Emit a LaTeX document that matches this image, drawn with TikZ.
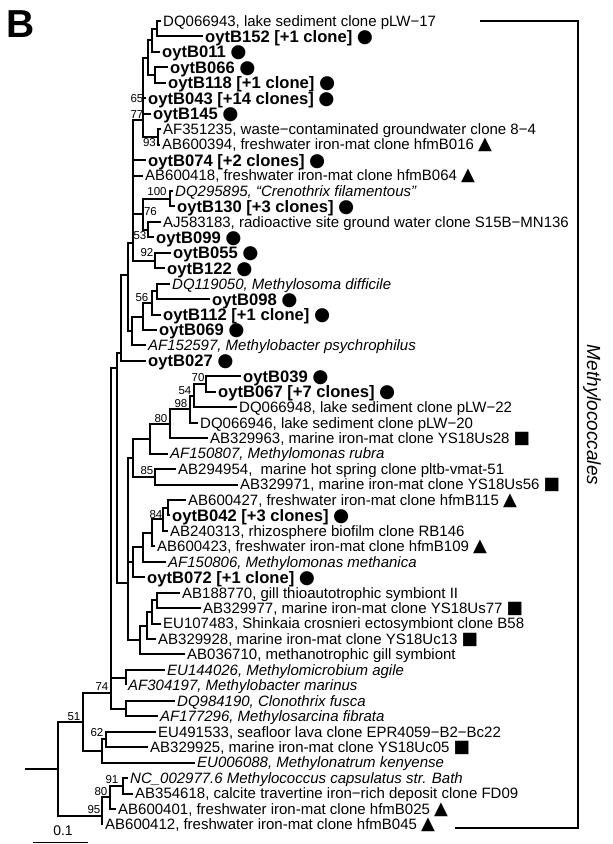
\documentclass[tikz,border=0pt]{standalone}
\usepackage{fontspec}
\setmainfont{Liberation Sans}
\newfontfamily\symf{DejaVu Sans}
\newcommand{\mdot}{{\symf\fontsize{18.5}{18.5}\selectfont ●}}
\newcommand{\mtri}{{\symf\fontsize{18}{18}\selectfont ▲}}
\newcommand{\msq}{{\symf\fontsize{17.5}{17.5}\selectfont ■}}
\pgfmathdeclarefunction{ly}{1}{\pgfmathparse{21+(#1-1)*15.45}}
\begin{document}
\begin{tikzpicture}[x=1pt,y=-1pt,
  br/.style={line width=2pt},
  lf/.style={anchor=west,inner xsep=2pt,inner ysep=0pt,font=\fontsize{15}{15}\selectfont,text height=10.7pt,text depth=0pt},
  bl/.style={lf,font=\fontsize{16.6}{16.6}\selectfont\bfseries,text height=11.9pt},
  it/.style={lf,font=\fontsize{15}{15}\selectfont\itshape},
  bs/.style={inner sep=0pt,font=\fontsize{11.5}{11.5}\selectfont}]
\useasboundingbox (0,0) rectangle (613,844);
\fill[white] (0,0) rectangle (613,844);
% leaves
\node[lf] (L1) at (161,{ly(1)}) {DQ066943, lake sediment clone pLW−17};
\node[bl] (L2) at (203,{ly(2)}) {oytB152 [+1 clone] \mdot};
\node[bl] (L3) at (160,{ly(3)}) {oytB011 \mdot};
\node[bl] (L4) at (168,{ly(4)}) {oytB066 \mdot};
\node[bl] (L5) at (166,{ly(5)}) {oytB118 [+1 clone] \mdot};
\node[bl] (L6) at (146,{ly(6)}) {oytB043 [+14 clones] \mdot};
\node[bl] (L7) at (151,{ly(7)}) {oytB145 \mdot};
\node[lf] (L8) at (161,{ly(8)}) {AF351235, waste−contaminated groundwater clone 8−4};
\node[lf] (L9) at (160,{ly(9)}) {AB600394, freshwater iron-mat clone hfmB016 \mtri};
\node[bl] (L10) at (146,{ly(10)}) {oytB074 [+2 clones] \mdot};
\node[lf] (L11) at (143,{ly(11)}) {AB600418, freshwater iron-mat clone hfmB064 \mtri};
\node[it] (L12) at (173,{ly(12)}) {DQ295895, “Crenothrix filamentous”};
\node[bl] (L13) at (175,{ly(13)}) {oytB130 [+3 clones] \mdot};
\node[lf] (L14) at (161,{ly(14)}) {AJ583183, radioactive site ground water clone S15B−MN136};
\node[bl] (L15) at (154,{ly(15)}) {oytB099 \mdot};
\node[bl] (L16) at (171,{ly(16)}) {oytB055 \mdot};
\node[bl] (L17) at (165,{ly(17)}) {oytB122 \mdot};
\node[it] (L18) at (170,{ly(18)}) {DQ119050, Methylosoma difficile};
\node[bl] (L19) at (210,{ly(19)}) {oytB098 \mdot};
\node[bl] (L20) at (161,{ly(20)}) {oytB112 [+1 clone] \mdot};
\node[bl] (L21) at (157,{ly(21)}) {oytB069 \mdot};
\node[it] (L22) at (146,{ly(22)}) {AF152597, Methylobacter psychrophilus};
\node[bl] (L23) at (146,{ly(23)}) {oytB027 \mdot};
\node[bl] (L24) at (241,{ly(24)}) {oytB039 \mdot};
\node[bl] (L25) at (216,{ly(25)}) {oytB067 [+7 clones] \mdot};
\node[lf] (L26) at (237,{ly(26)}) {DQ066948, lake sediment clone pLW−22};
\node[lf] (L27) at (198,{ly(27)}) {DQ066946, lake sediment clone pLW−20};
\node[lf] (L28) at (208,{ly(28)}) {AB329963, marine iron-mat clone YS18Us28 \msq};
\node[it] (L29) at (168,{ly(29)}) {AF150807, Methylomonas rubra};
\node[lf] (L30) at (176,{ly(30)}) {AB294954,\ \ marine hot spring clone pltb-vmat-51};
\node[lf] (L31) at (238,{ly(31)}) {AB329971, marine iron-mat clone YS18Us56 \msq};
\node[lf] (L32) at (186,{ly(32)}) {AB600427, freshwater iron-mat clone hfmB115 \mtri};
\node[bl] (L33) at (170,{ly(33)}) {oytB042 [+3 clones] \mdot};
\node[lf] (L34) at (168,{ly(34)}) {AB240313, rhizosphere biofilm clone RB146};
\node[lf] (L35) at (155,{ly(35)}) {AB600423, freshwater iron-mat clone hfmB109 \mtri};
\node[it] (L36) at (166,{ly(36)}) {AF150806, Methylomonas methanica};
\node[bl] (L37) at (145,{ly(37)}) {oytB072 [+1 clone] \mdot};
\node[lf] (L38) at (180,{ly(38)}) {AB188770, gill thioautotrophic symbiont II};
\node[lf] (L39) at (201,{ly(39)}) {AB329977, marine iron-mat clone YS18Us77 \msq};
\node[lf] (L40) at (161,{ly(40)}) {EU107483, Shinkaia crosnieri ectosymbiont clone B58};
\node[lf] (L41) at (156,{ly(41)}) {AB329928, marine iron-mat clone YS18Uc13 \msq};
\node[lf] (L42) at (185,{ly(42)}) {AB036710, methanotrophic gill symbiont};
\node[it] (L43) at (165,{ly(43)}) {EU144026, Methylomicrobium agile};
\node[it] (L44) at (126,{ly(44)}) {AF304197, Methylobacter marinus};
\node[it] (L45) at (175,{ly(45)}) {DQ984190, Clonothrix fusca};
\node[it] (L46) at (158,{ly(46)}) {AF177296, Methylosarcina fibrata};
\node[lf] (L47) at (156,{ly(47)}) {EU491533, seafloor lava clone EPR4059−B2−Bc22};
\node[lf] (L48) at (148,{ly(48)}) {AB329925, marine iron-mat clone YS18Uc05 \msq};
\node[it] (L49) at (195,{ly(49)}) {EU006088, Methylonatrum kenyense};
\node[it] (L50) at (128,{ly(50)}) {NC\_002977.6 Methylococcus capsulatus str. Bath};
\node[lf] (L51) at (133,{ly(51)}) {AB354618, calcite travertine iron−rich deposit clone FD09};
\node[lf] (L52) at (116,{ly(52)}) {AB600401, freshwater iron-mat clone hfmB025 \mtri};
\node[lf] (L53) at (103,{ly(53)}) {AB600412, freshwater iron-mat clone hfmB045 \mtri};
% internal nodes
\coordinate (nA) at (157,28.7);
\coordinate (nB) at (152,40.3);
\coordinate (nC) at (155,75.1);
\coordinate (nBC) at (148,57.7);
\coordinate (n93) at (158,136.9);
\coordinate (n77) at (143,120);
\coordinate (n100) at (170,198.7);
\coordinate (n76) at (143,214.2);
\coordinate (n53) at (148,229.6);
\coordinate (n92) at (155,260.5);
\coordinate (n133) at (133,243);
\coordinate (nE) at (157,291.4);
\coordinate (n56) at (152,303);
\coordinate (nX) at (143,316.5);
\coordinate (nY) at (132,331);
\coordinate (n128) at (128,275);
\coordinate (n121) at (121,353);
\coordinate (n70) at (206,384.1);
\coordinate (n54) at (194,395.7);
\coordinate (n98) at (190,409.2);
\coordinate (n80) at (170,423.7);
\coordinate (nQ) at (150,438.6);
\coordinate (n85) at (155,476.8);
\coordinate (nR) at (133,457.7);
\coordinate (nW) at (168,507.7);
\coordinate (n84) at (163,519.3);
\coordinate (nY2) at (152,532.8);
\coordinate (nZ2) at (143,547.3);
\coordinate (nO) at (133,562.2);
\coordinate (nV) at (157,600.4);
\coordinate (nU) at (152,612);
\coordinate (nT) at (147,625.5);
\coordinate (nG) at (140,640);
\coordinate (nS) at (128,583);
\coordinate (n117) at (117,368);
\coordinate (nEU) at (126,677.6);
\coordinate (nDQ) at (126,708.5);
\coordinate (n74) at (111,693.1);
\coordinate (n62a) at (106,739.4);
\coordinate (n62) at (102,751);
\coordinate (n51) at (83,722);
\coordinate (n91) at (123,785.8);
\coordinate (n80b) at (110,797.4);
\coordinate (n95) at (102,816);
\coordinate (root) at (58,769);
\coordinate (rootstem) at (25,769);
% branches
\draw[br] (nA) |- (L1.west) (nA) |- (L2.west);
\draw[br] (nB) |- (nA) (nB) |- (L3.west);
\draw[br] (nC) |- (L4.west) (nC) |- (L5.west);
\draw[br] (nBC) |- (nB) (nBC) |- (nC);
\draw[br] (n93) |- (L8.west) (n93) |- (L9.west);
\draw[br] (n77) |- (nBC) (n77) |- (L6.west) (n77) |- (L7.west) (n77) |- (n93);
\draw[br] (n100) |- (L12.west) (n100) |- (L13.west);
\draw[br] (n53) |- (L14.west) (n53) |- (L15.west);
\draw[br] (n76) |- (n100) (n76) |- (n53);
\draw[br] (n92) |- (L16.west) (n92) |- (L17.west);
\draw[br] (n133) |- (n77) (n133) |- (L10.west) (n133) |- (L11.west) (n133) |- (n76) (n133) |- (n92);
\draw[br] (nE) |- (L18.west) (nE) |- (L19.west);
\draw[br] (n56) |- (nE) (n56) |- (L20.west);
\draw[br] (nX) |- (n56) (nX) |- (L21.west);
\draw[br] (nY) |- (nX) (nY) |- (L22.west);
\draw[br] (n128) |- (n133) (n128) |- (nY);
\draw[br] (n121) |- (n128) (n121) |- (L23.west);
\draw[br] (n117) |- (n121) (n117) |- (nS);
\draw[br] (n70) |- (L24.west) (n70) |- (L25.west);
\draw[br] (n54) |- (n70) (n54) |- (L26.west);
\draw[br] (n98) |- (n54) (n98) |- (L27.west);
\draw[br] (n80) |- (n98) (n80) |- (L28.west);
\draw[br] (nQ) |- (n80) (nQ) |- (L29.west);
\draw[br] (n85) |- (L30.west) (n85) |- (L31.west);
\draw[br] (nR) |- (nQ) (nR) |- (n85);
\draw[br] (nW) |- (L32.west) (nW) |- (L33.west);
\draw[br] (n84) |- (nW) (n84) |- (L34.west);
\draw[br] (nY2) |- (n84) (nY2) |- (L35.west);
\draw[br] (nZ2) |- (nY2) (nZ2) |- (L36.west);
\draw[br] (nO) |- (nZ2) (nO) |- (L37.west);
\draw[br] (nV) |- (L38.west) (nV) |- (L39.west);
\draw[br] (nU) |- (nV) (nU) |- (L40.west);
\draw[br] (nT) |- (nU) (nT) |- (L41.west);
\draw[br] (nG) |- (nT) (nG) |- (L42.west);
\draw[br] (nS) |- (nR) (nS) |- (nO) (nS) |- (nG);
\draw[br] (nEU) |- (L43.west) (nEU) |- (L44.west);
\draw[br] (nDQ) |- (L45.west) (nDQ) |- (L46.west);
\draw[br] (n74) |- (n117) (n74) |- (nEU) (n74) |- (nDQ);
\draw[br] (n62a) |- (L47.west) (n62a) |- (L48.west);
\draw[br] (n62) |- (n62a) (n62) |- (L49.west);
\draw[br] (n51) |- (n74) (n51) |- (n62);
\draw[br] (n91) |- (L50.west) (n91) |- (L51.west);
\draw[br] (n80b) |- (n91) (n80b) |- (L52.west);
\draw[br] (n95) |- (n80b) (n95) |- (L53.west);
\draw[br] (root) |- (n51) (root) |- (n95);
\draw[br] (rootstem) -- (root);
% bootstrap values
\node[bs] (b65) at (137,99) {65};
\node[bs] (b77) at (137,114.5) {77};
\node[bs] (b93) at (149.5,143) {93};
\node[bs] (b100) at (157,192) {100};
\node[bs] (b76) at (150.5,211.5) {76};
\node[bs] (b53) at (140,236) {53};
\node[bs] (b92) at (147,253) {92};
\node[bs] (b56) at (142,298) {56};
\node[bs] (b70) at (198,378) {70};
\node[bs] (b54) at (185,390.5) {54};
\node[bs] (b98) at (181,404) {98};
\node[bs] (b80) at (161,418.5) {80};
\node[bs] (b85) at (147,471) {85};
\node[bs] (b84) at (156,514.5) {84};
\node[bs] (b74) at (102,687) {74};
\node[bs] (b51) at (74,716.5) {51};
\node[bs] (b62) at (97,733) {62};
\node[bs] (b91) at (112,780) {91};
\node[bs] (b80b) at (101,792) {80};
\node[bs] (b95) at (94,810) {95};
% clade bracket
\coordinate (k1) at (480,21);
\coordinate (k2) at (578,21);
\coordinate (k3) at (578,828);
\coordinate (k4) at (455,828);
\draw[line width=2pt] (k1) -- (k2) -- (k3) -- (k4);
\node[rotate=-90,inner sep=0pt,font=\fontsize{19}{19}\selectfont\itshape] (mc) at (592,415) {Methylococcales};
% panel letter
\node[inner sep=0pt,font=\fontsize{39}{39}\selectfont\bfseries] (pl) at (20.5,24) {B};
% scale bar
\coordinate (s1) at (33,842.5);
\coordinate (s2) at (88,842.5);
\draw[line width=1pt] (s1) -- (s2);
\node[inner sep=0pt,font=\fontsize{14}{14}\selectfont] (sl) at (63,831) {0.1};
\end{tikzpicture}
\end{document}
